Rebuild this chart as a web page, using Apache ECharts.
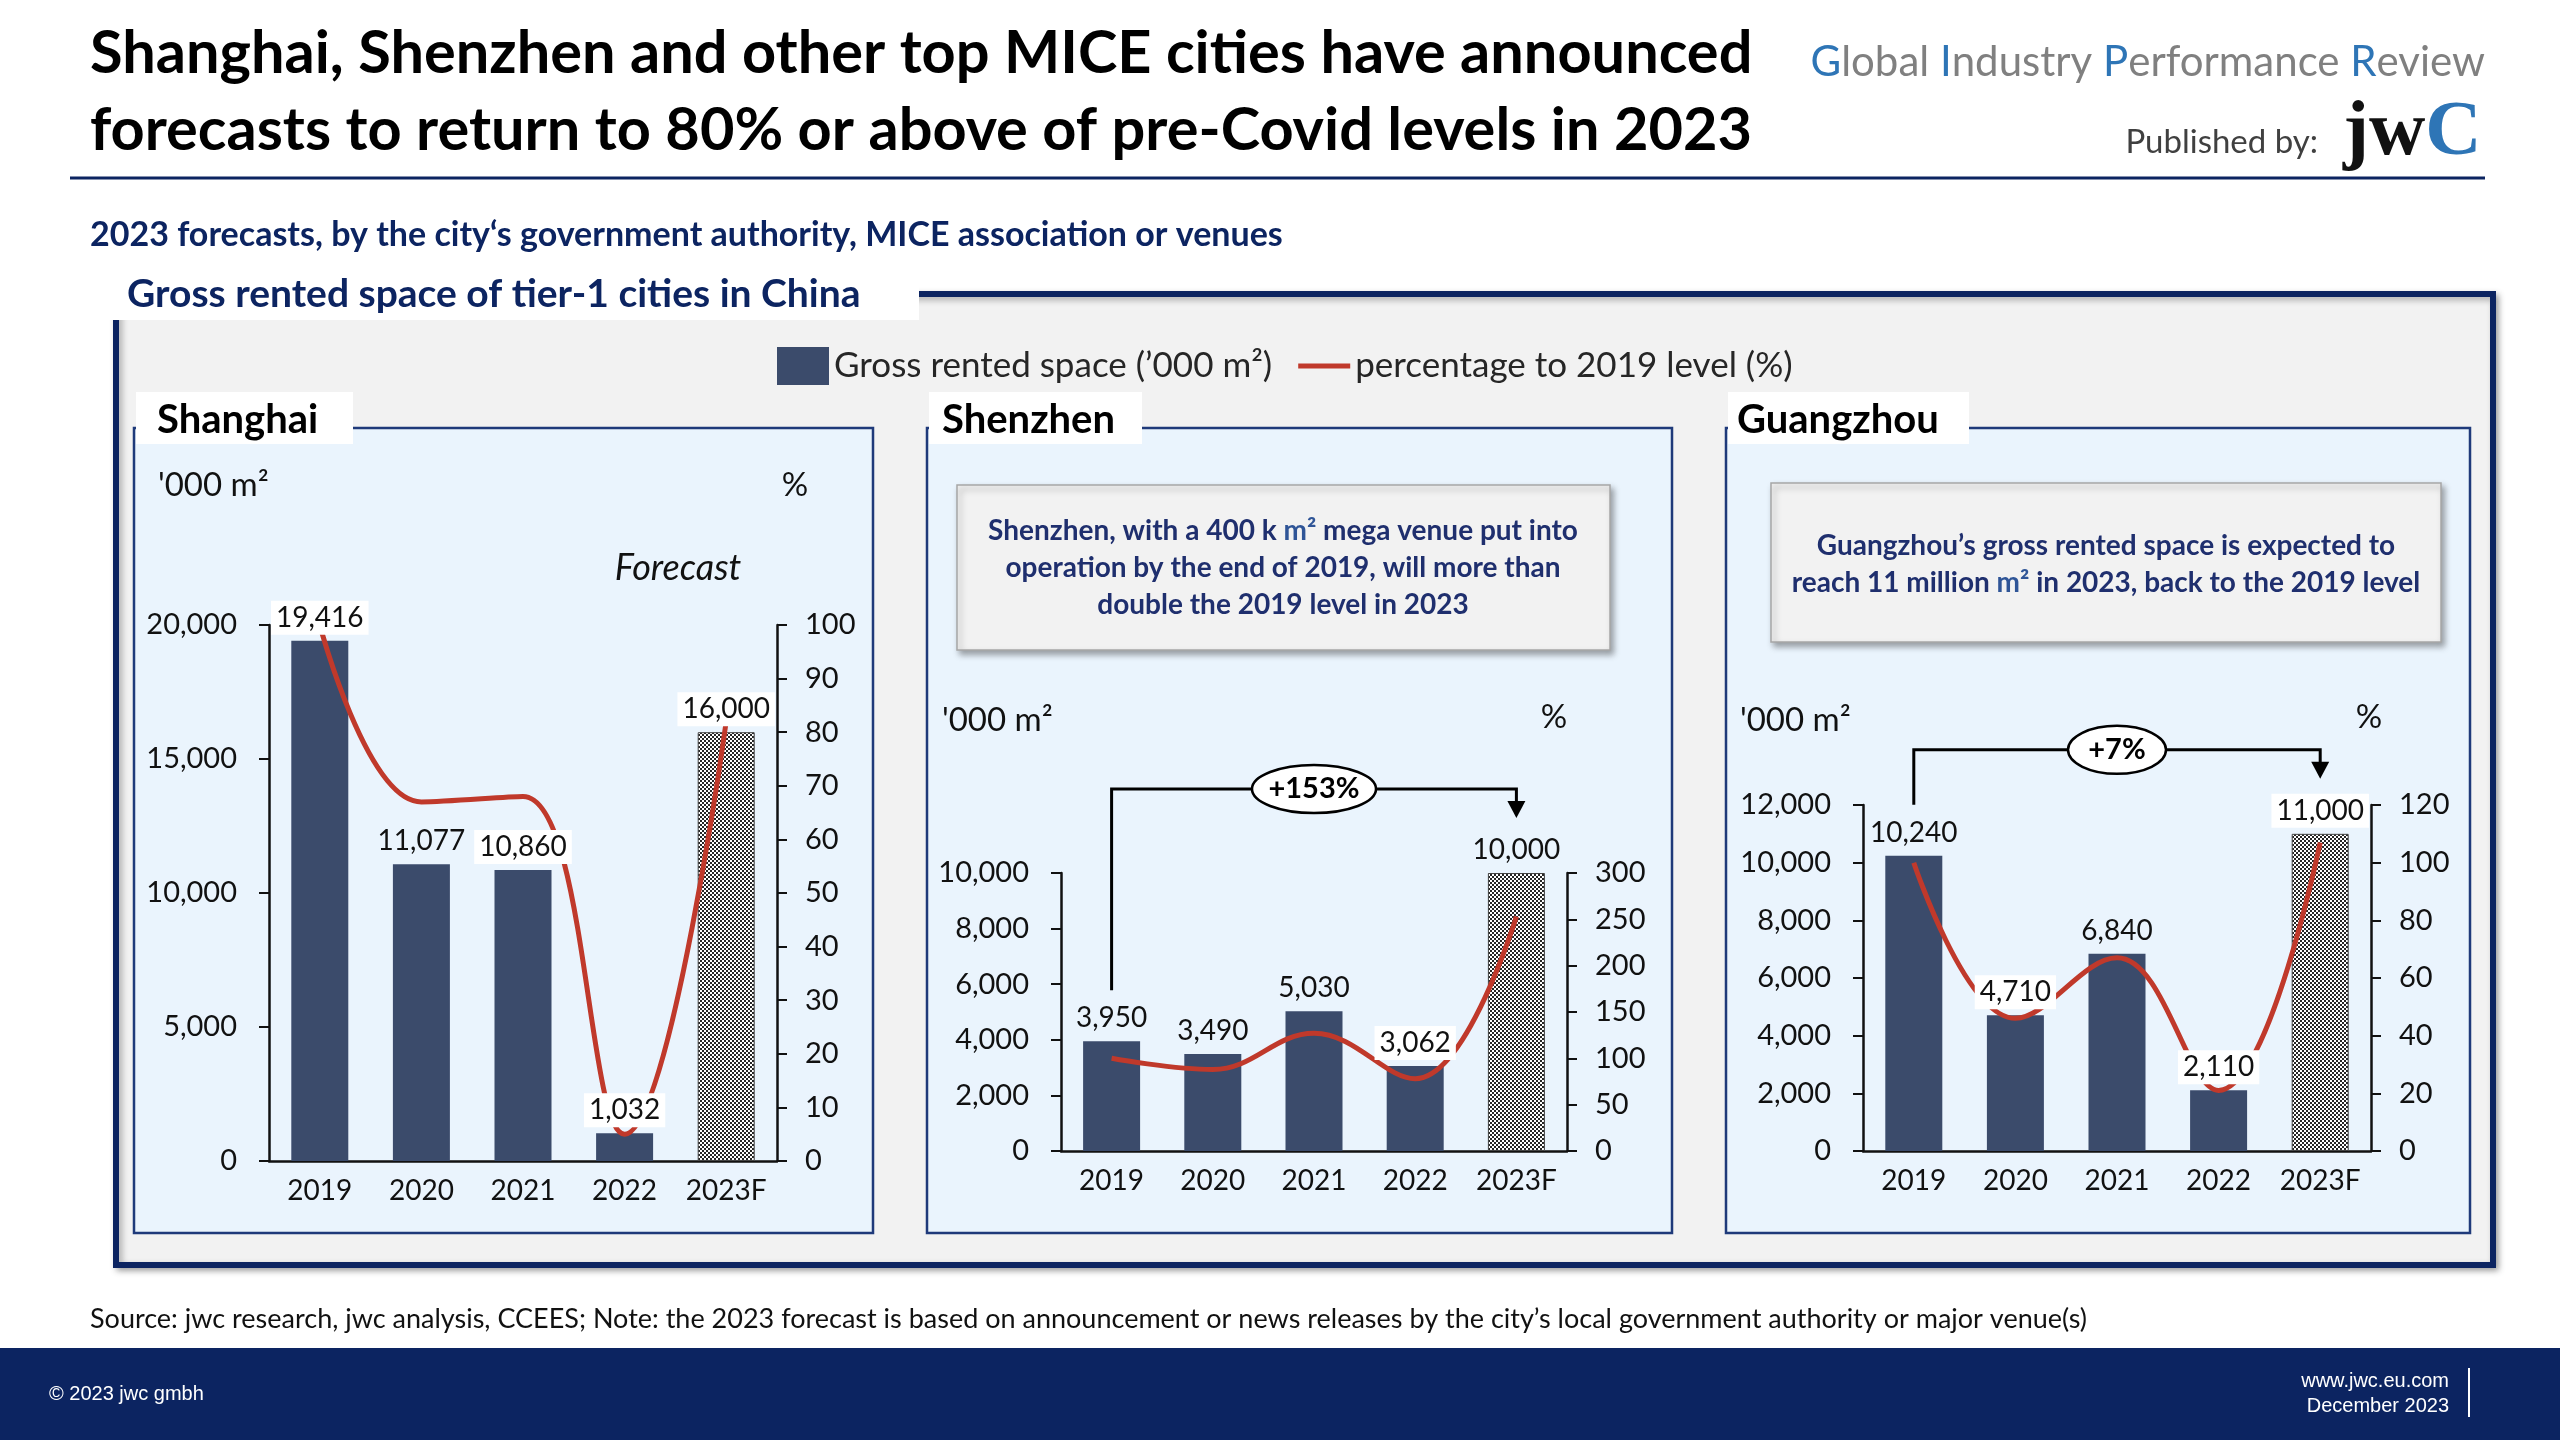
<!DOCTYPE html>
<html>
<head>
<meta charset="utf-8">
<title>Gross rented space of tier-1 cities in China</title>
<script src="https://cdn.jsdelivr.net/npm/echarts@6/dist/echarts.min.js"></script>
<style>
html, body { margin: 0; padding: 0; background: #fff; }
#main { width: 2560px; height: 1440px; }
</style>
</head>
<body>
<div id="main"></div>
<script>
// data
var years = ['2019', '2020', '2021', '2022', '2023F'];
var shanghaiSpace = [19416, 11077, 10860, 1032, 16000];
var shanghaiPct = [100, 67, 68, 5, 82];
var shenzhenSpace = [3950, 3490, 5030, 3062, 10000];
var shenzhenPct = [100, 88, 127, 78, 253];
var guangzhouSpace = [10240, 4710, 6840, 2110, 11000];
var guangzhouPct = [100, 46, 67, 21, 107];
var shenzhenGrowth = '+153%';
var guangzhouGrowth = '+7%';

var spaceName = 'Gross rented space (’000 m²)';
var pctName = 'percentage to 2019 level (%)';
var F = 'Lato';
var NAVY = '#0c2461';
var BAR = '#3b4b6b';
var RED = '#c0392b';

// dithered fill used by the forecast bar
function checker() {
    var c = document.createElement('canvas');
    c.width = 4; c.height = 4;
    var ctx = c.getContext('2d');
    ctx.fillStyle = '#ffffff';
    ctx.fillRect(0, 0, 4, 4);
    ctx.fillStyle = '#262626';
    ctx.fillRect(0, 0, 2, 2);
    ctx.fillRect(2, 2, 2, 2);
    return c;
}
var pattern = checker();

var fmt = function(v) { return Number(v).toLocaleString('en-US'); };

function xAxis(i) {
    return {
        type: 'category', gridIndex: i, data: years,
        axisLine: { lineStyle: { color: '#111', width: 2.5 } },
        axisTick: { show: false },
        axisLabel: { interval: 0, fontFamily: F, fontSize: 28, color: '#111', margin: 16 }
    };
}
function yAxis(i, pos, max, step, comma) {
    return {
        type: 'value', gridIndex: i, position: pos, min: 0, max: max, interval: step,
        splitLine: { show: false },
        axisLine: { show: true, lineStyle: { color: '#111', width: 2.5 } },
        axisTick: { show: true, length: 10, lineStyle: { color: '#111', width: 2 } },
        axisLabel: { fontFamily: F, fontSize: 29, color: '#111', margin: pos === 'left' ? 32 : 28,
            formatter: comma ? fmt : null }
    };
}
function citySeries(i, space, pct, boxed) {
    return [{
        type: 'bar', name: spaceName, xAxisIndex: i, yAxisIndex: 2 * i,
        barWidth: 57, barGap: '-100%', z: 2,
        itemStyle: { color: BAR },
        data: space.map(function(v, k) {
            return k === 4 ? { value: v, itemStyle: { color: { image: pattern, repeat: 'repeat' }, borderColor: '#444', borderWidth: 1 } } : v;
        })
    }, {
        type: 'line', name: pctName, xAxisIndex: i, yAxisIndex: 2 * i + 1,
        smooth: 0.4, symbol: 'none', z: 3,
        lineStyle: { color: RED, width: 5 }, itemStyle: { color: RED },
        data: pct
    }, {
        type: 'bar', name: 'labels' + i, xAxisIndex: i, yAxisIndex: 2 * i,
        barWidth: 57, barGap: '-100%', z: 4, silent: true,
        itemStyle: { color: 'rgba(0,0,0,0)' },
        label: { show: true, position: 'top', distance: 6, fontFamily: F, fontSize: 28, color: '#111',
            formatter: function(p) { return fmt(p.value); } },
        data: space.map(function(v, k) {
            return { value: v, label: boxed[k] ? { backgroundColor: '#fff', padding: [3, 5] } : { padding: [3, 5] } };
        })
    }];
}

var chart = echarts.init(document.getElementById('main'));
var option = {
    animation: false,
    backgroundColor: '#fff',
    legend: {
        left: 772, top: 342, itemWidth: 52, itemHeight: 38, itemGap: 26,
        textStyle: { fontFamily: F, fontSize: 35, color: '#262626' },
        data: [{ name: spaceName, icon: 'rect' }, { name: pctName, icon: 'path://M0,0 L52,0 L52,5 L0,5 Z' }]
    },
    grid: [
        { left: 269, top: 625, width: 508, height: 536 },
        { left: 1061, top: 873, width: 506, height: 278 },
        { left: 1863, top: 805, width: 508, height: 346 }
    ],
    xAxis: [xAxis(0), xAxis(1), xAxis(2)],
    yAxis: [
        yAxis(0, 'left', 20000, 5000, true), yAxis(0, 'right', 100, 10),
        yAxis(1, 'left', 10000, 2000, true), yAxis(1, 'right', 300, 50),
        yAxis(2, 'left', 12000, 2000, true), yAxis(2, 'right', 120, 20)
    ],
    series: [].concat(
        citySeries(0, shanghaiSpace, shanghaiPct, [true, false, true, true, true]),
        citySeries(1, shenzhenSpace, shenzhenPct, [false, false, false, true, false]),
        citySeries(2, guangzhouSpace, guangzhouPct, [false, true, false, true, true])
    )
};
chart.setOption(option);

function txt(x, y, text, size, extra) {
    var s = { text: text, x: x, y: y, fontFamily: F, fontSize: size, fill: '#111', align: 'left', verticalAlign: 'middle' };
    var z = 50;
    for (var k in extra) {
        if (k === 'z') z = extra[k]; else s[k] = extra[k];
    }
    return { type: 'text', z: z, style: s };
}
function rect(x, y, w, h, style, z) {
    return { type: 'rect', z: z, shape: { x: x, y: y, width: w, height: h }, style: style };
}

var g = [];
// header
g.push(txt(90, 54, 'Shanghai, Shenzhen and other top MICE cities have announced', 59.5, { fontWeight: 'bold', fill: '#000' }));
g.push(txt(90, 131, 'forecasts to return to 80% or above of pre-Covid levels in 2023', 59.5, { fontWeight: 'bold', fill: '#000' }));
g.push(txt(2485, 62, '{b|G}{g|lobal }{b|I}{g|ndustry }{b|P}{g|erformance }{b|R}{g|eview}', 42, {
    align: 'right', rich: { b: { fill: '#2e75b6', fontSize: 42, fontFamily: F }, g: { fill: '#808080', fontSize: 42, fontFamily: F } }
}));
g.push(txt(2318, 142, 'Published by:', 33, { align: 'right', fill: '#404040' }));
g.push(txt(2343, 134, '{k|jw}{c|C}', 78, {
    rich: { k: { fill: '#111', fontSize: 78, fontWeight: 'bold', fontFamily: 'Liberation Serif' },
            c: { fill: '#2e75b6', fontSize: 78, fontWeight: 'bold', fontFamily: 'Liberation Serif' } }
}));
g.push({ type: 'line', z: 50, shape: { x1: 70, y1: 178, x2: 2485, y2: 178 }, style: { stroke: NAVY, lineWidth: 3 } });
g.push(txt(90, 235, '2023 forecasts, by the city‘s government authority, MICE association or venues', 34, { fontWeight: 'bold', fill: NAVY }));

// outer frame and its tab
g.push(rect(116, 294, 2377, 971, { fill: '#f2f2f2', stroke: NAVY, lineWidth: 6, shadowBlur: 6, shadowOffsetX: 3, shadowOffsetY: 3, shadowColor: 'rgba(0,0,0,0.3)' }, -3));
g.push(rect(106, 268, 813, 52, { fill: '#fff' }, -2));
g.push(txt(127, 294, 'Gross rented space of tier-1 cities in China', 39, { fontWeight: 'bold', fill: NAVY }));

// city panels
var panels = [
    { x: 134, w: 739, tabW: 217, tx: 157, name: 'Shanghai' },
    { x: 927, w: 745, tabW: 213, tx: 942, name: 'Shenzhen' },
    { x: 1726, w: 744, tabW: 241, tx: 1737, name: 'Guangzhou' }
];
panels.forEach(function(p) {
    g.push(rect(p.x, 428, p.w, 805, { fill: '#eaf4fd', stroke: '#1f3a7a', lineWidth: 2.5 }, -2));
    g.push(rect(p.x + 2, 392, p.tabW, 52, { fill: '#fff' }, -1));
    g.push(txt(p.tx, 420, p.name, 40, { fontWeight: 'bold', fill: '#000' }));
});

// unit captions
g.push(txt(158, 485, "'000 m²", 33));
g.push(txt(795, 485, '%', 33, { align: 'center' }));
g.push(txt(678, 568, 'Forecast', 36, { align: 'center', fontStyle: 'italic' }));
g.push(txt(942, 720, "'000 m²", 33));
g.push(txt(1554, 717, '%', 33, { align: 'center' }));
g.push(txt(1740, 720, "'000 m²", 33));
g.push(txt(2369, 717, '%', 33, { align: 'center' }));

// call-out boxes
var boxStyle = { fill: '#f2f2f2', stroke: '#a6a6a6', lineWidth: 1.5, shadowBlur: 6, shadowOffsetX: 3, shadowOffsetY: 4, shadowColor: 'rgba(0,0,0,0.35)' };
var boxRich = {
    n: { fill: '#1f2f6e', fontSize: 28, fontWeight: 'bold', fontFamily: F, lineHeight: 37 },
    m: { fill: '#2f5597', fontSize: 28, fontWeight: 'bold', fontFamily: F, lineHeight: 37 }
};
g.push(rect(957, 485, 653, 165, boxStyle, 10));
g.push(txt(1283, 568, '{n|Shenzhen, with a 400 k }{m|m²}{n| mega venue put into}\n{n|operation by the end of 2019, will more than}\n{n|double the 2019 level in 2023}', 28, { align: 'center', rich: boxRich }));
g.push(rect(1771, 483, 670, 159, boxStyle, 10));
g.push(txt(2106, 564, '{n|Guangzhou’s gross rented space is expected to}\n{n|reach 11 million }{m|m²}{n| in 2023, back to the 2019 level}', 28, { align: 'center', rich: boxRich }));

// growth brackets, positioned from the axes
function bracket(i, space, label, rx) {
    var p0 = chart.convertToPixel({ xAxisIndex: i, yAxisIndex: 2 * i }, [0, space[0]]);
    var p4 = chart.convertToPixel({ xAxisIndex: i, yAxisIndex: 2 * i }, [4, space[4]]);
    var yStart = p0[1] - 51;
    var yTip = p4[1] - 55;
    var yBr = yTip - 29;
    var xm = (p0[0] + p4[0]) / 2;
    g.push({ type: 'polyline', z: 60, shape: { points: [[p0[0], yStart], [p0[0], yBr], [p4[0], yBr], [p4[0], yTip - 14]] },
        style: { stroke: '#000', lineWidth: 3, fill: null } });
    g.push({ type: 'polygon', z: 60, shape: { points: [[p4[0] - 9, yTip - 17], [p4[0] + 9, yTip - 17], [p4[0], yTip]] }, style: { fill: '#000' } });
    g.push({ type: 'ellipse', z: 61, shape: { cx: xm, cy: yBr, rx: rx, ry: 24 }, style: { fill: '#fff', stroke: '#000', lineWidth: 2.5 } });
    g.push(txt(xm, yBr, label, 29, { align: 'center', fontWeight: 'bold', fill: '#000', z: 70 }));
}
bracket(1, shenzhenSpace, shenzhenGrowth, 62);
bracket(2, guangzhouSpace, guangzhouGrowth, 49);

// footer
g.push(txt(90, 1319, 'Source: jwc research, jwc analysis, CCEES; Note: the 2023 forecast is based on announcement or news releases by the city’s local government authority or major venue(s)', 27, { fill: '#111' }));
g.push(rect(0, 1348, 2560, 92, { fill: NAVY }, 5));
g.push(txt(49, 1394, '© 2023 jwc gmbh', 20, { fill: '#fff', fontFamily: 'Liberation Sans' }));
g.push(txt(2449, 1381, 'www.jwc.eu.com', 20, { fill: '#fff', fontFamily: 'Liberation Sans', align: 'right' }));
g.push(txt(2449, 1406, 'December 2023', 20, { fill: '#fff', fontFamily: 'Liberation Sans', align: 'right' }));
g.push({ type: 'line', z: 50, shape: { x1: 2469, y1: 1368, x2: 2469, y2: 1417 }, style: { stroke: '#fff', lineWidth: 2 } });

chart.setOption({ graphic: { elements: g } });
</script>
</body>
</html>
